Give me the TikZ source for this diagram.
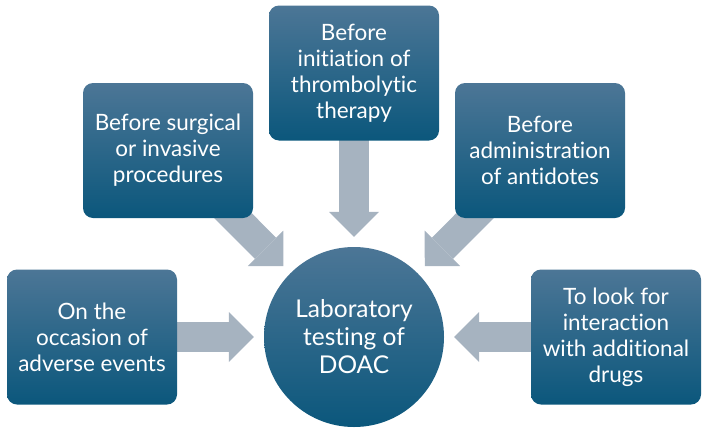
\documentclass[tikz,border=0pt]{standalone}
\usepackage{fontspec}
\setmainfont{Lato}[Ligatures=NoCommon]
\usetikzlibrary{arrows.meta}
\definecolor{boxtop}{RGB}{76,118,150}
\definecolor{boxbot}{RGB}{11,87,124}
\definecolor{feedgrey}{RGB}{166,179,192}
\pgfdeclarelayer{back}
\pgfsetlayers{back,main}
\tikzset{
  srcbox/.style={rounded corners=10pt,top color=boxtop,bottom color=boxbot,
    minimum width=170pt,minimum height=135pt,inner sep=0pt,
    text=white,align=center,font=\fontsize{22.5}{26}\selectfont},
  hubdisc/.style={circle,top color=boxtop,bottom color=boxbot,
    minimum size=180pt,inner sep=0pt,
    text=white,align=center,font=\fontsize{24.5}{28}\selectfont},
  feedarrow/.style={draw=feedgrey,line width=30pt,shorten >=10pt,
    -{Triangle[length=25pt,width=50pt,line width=0pt]}},
}
\newcommand{\feed}[1]{\draw[feedarrow] (#1.center) -- (hub);}

\begin{document}
\begin{tikzpicture}[x=1pt,y=-1pt]
  \useasboundingbox (0,0) rectangle (706,431);
  % hub and sources
  \node[hubdisc] (hub) at (354,337) {Laboratory\\testing of\\DOAC};
  \node[srcbox] (adverse) at (92,337) {On the\\occasion of\\adverse events};
  \node[srcbox] (surgical) at (168,150.5) {Before surgical\\or invasive\\procedures};
  \node[srcbox] (thrombo) at (354,73) {Before\\initiation of\\thrombolytic\\therapy};
  \node[srcbox] (antidote) at (540,150.5) {Before\\administration\\of antidotes};
  \node[srcbox] (drugs) at (616,337) {To look for\\interaction\\with additional\\drugs};
  % block arrows behind the boxes
  \begin{pgfonlayer}{back}
    \foreach \src in {adverse,surgical,thrombo,antidote,drugs}{\feed{\src}}
  \end{pgfonlayer}
\end{tikzpicture}
\end{document}
